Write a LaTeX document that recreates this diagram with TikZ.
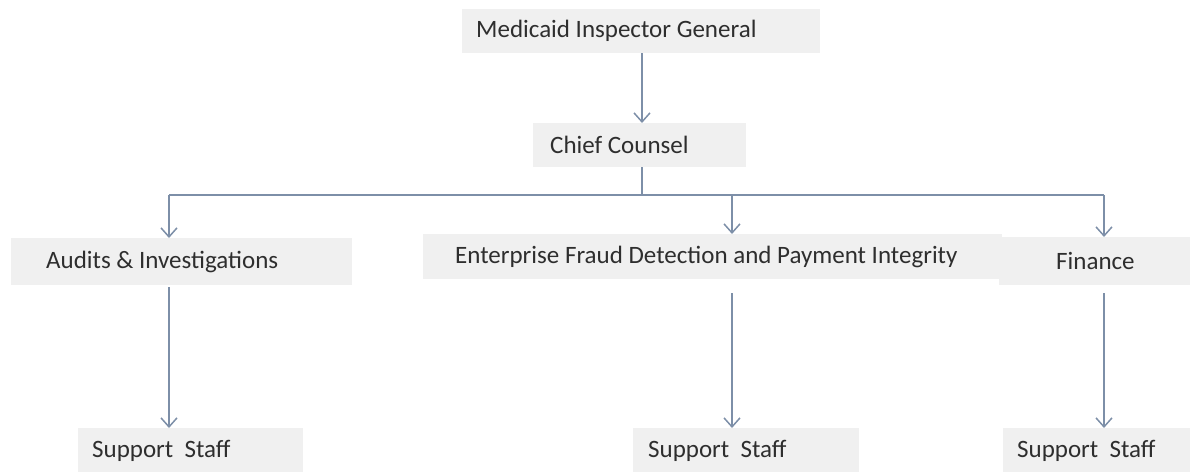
\documentclass[tikz,border=0pt]{standalone}
\usepackage{fontspec}
\setmainfont{Carlito}
\usetikzlibrary{arrows.meta}
\definecolor{boxfill}{HTML}{F0F0F0}
\definecolor{linkcol}{HTML}{7D8FA8}
\definecolor{txtcol}{HTML}{2E2E2E}
\begin{document}
\begin{tikzpicture}[x=1pt,y=-1pt,
  unit/.style={fill=boxfill, draw=none, text=txtcol, font=\fontsize{25}{29}\selectfont,
    anchor=north west, inner sep=0pt},
  link/.style={draw=linkcol, line width=1.5pt, -{Straight Barb[length=9pt,width=16pt,line width=1.5pt]}},
  trunk/.style={draw=linkcol, line width=1.5pt}]
\useasboundingbox (0,0) rectangle (1190,471);

% boxes: top-left corner, width, height, text indent, text
\newcommand{\orgbox}[7]{%
  \node[unit, minimum height=#5pt] (#1) at (#2,#3)
    {\makebox[#4pt][l]{\hspace*{#6pt}#7}};}

\orgbox{mig}{462}{9}{358}{44}{14}{Medicaid Inspector General}
\orgbox{cc}{533}{123}{213}{44}{17}{Chief Counsel}
\orgbox{ai}{11}{238}{341}{47}{35}{Audits \& Investigations}
\orgbox{ef}{423}{234}{579}{45}{32}{Enterprise Fraud Detection and Payment Integrity}
\orgbox{fin}{999}{237}{191}{48}{57}{Finance}
\orgbox{ss1}{78}{428}{225}{46}{14}{Support\hspace{0.45em}Staff}
\orgbox{ss2}{633}{428}{226}{46}{15}{Support\hspace{0.45em}Staff}
\orgbox{ss3}{1003}{428}{187}{46}{14}{Support\hspace{0.45em}Staff}

% junction of the branch line
\coordinate (j) at (642,195);
\coordinate (jl) at (169,195);
\coordinate (jr) at (1104,195);

\draw[link] (mig.south -| j) -- (cc.north -| j);
\draw[trunk] (cc.south -| j) -- (j);
\draw[trunk] (jl) -- (jr);
\draw[link] (jl) -- (ai.north -| jl);
\draw[link] (j -| 732,0) -- (ef.north -| 732,0);
\draw[link] (jr) -- (fin.north -| jr);

\draw[link] ([yshift=-2pt]ai.south -| jl) -- (ss1.north -| jl);
\draw[link] ([yshift=-14pt]ef.south -| 732,0) -- (ss2.north -| 732,0);
\draw[link] ([yshift=-8pt]fin.south -| jr) -- (ss3.north -| jr);
\end{tikzpicture}
\end{document}
